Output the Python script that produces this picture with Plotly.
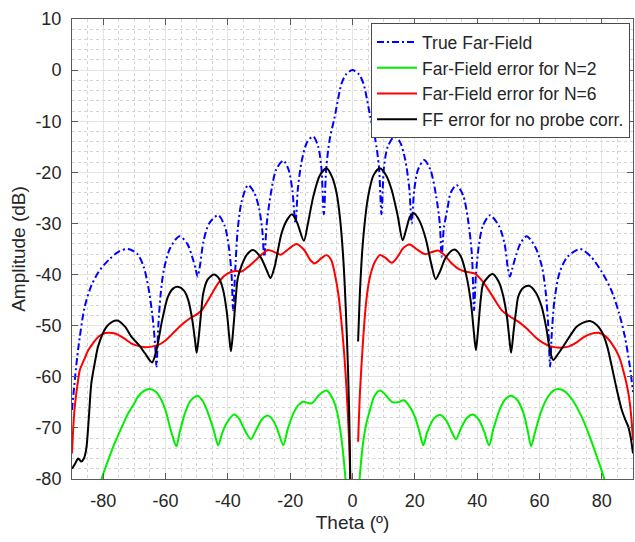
import plotly.graph_objects as go

# ---------------- data ----------------
theta_true = [-90, -89, -88, -86, -84, -81.5, -78, -75, -72, -69, -67, -65.5, -64.2, -63.3, -62.9, -62.3, -61.5, -60.5,
              -58.5, -55.5, -53, -51.3, -50.3, -49.7, -49, -47.8, -46, -43.1, -41, -39.7, -38.8, -38.3, -37.7, -36.8,
              -35.5, -33.5, -31.5, -30, -29, -28.3, -27.5, -26.3, -24.5, -22.2, -20.5, -19.3, -18.3, -17.5, -16.2,
              -14.5, -12.6, -11, -10, -9.2, -8.4, -7.3, -5.7, -3.5, -2, 0,
              2, 3.5, 5.7, 7.3, 8.5, 9.3, 10.1, 11.3, 13.4, 15.2, 16.9, 18.2, 19, 19.8, 21, 23, 25, 26.8, 28, 28.6,
              29.3, 30.5, 31.5, 33.4, 35.5, 37, 38.3, 39, 39.6, 40.5, 41.8, 44.1, 47, 48.8, 49.8, 50.5, 51.2, 52.2,
              53.8, 55.9, 58.8, 60.8, 62, 62.8, 63.4, 63.9, 64.8, 66.5, 69, 73, 76.5, 80, 83, 85.5, 87.4, 89, 90]
amp_true = [-66.5, -60, -54.5, -46.5, -42.5, -39.5, -37, -35.5, -35, -36, -38.5, -42.5, -48, -54, -58, -50, -43.5, -39,
            -34.8, -32.5, -34, -36.8, -39, -40.4, -38.5, -33.5, -30, -28.4, -30.5, -34.5, -40, -47, -40, -31,
            -25.5, -22.5, -24, -27, -31, -36.5, -30, -24.5, -19.5, -17.7, -19.5, -23.5, -30, -23, -17.5,
            -14, -13, -15, -19, -28.2, -19, -13.5, -9.1, -2.6, -0.8, 0,
            -0.8, -2.6, -9.1, -13.5, -19, -28.2, -19, -15, -13, -14, -17.5, -23, -30, -23.5, -19.5, -17.6, -19.5,
            -24.5, -30, -36.5, -31, -27, -24, -22.5, -24.5, -29, -36, -47, -40, -34.5, -30.5, -28.4, -30.5, -34,
            -38.5, -40.4, -39, -36.8, -34, -32.5, -34.8, -38.5, -43.5, -50, -58, -52, -45, -39.5, -36.5, -35, -36.5,
            -39.5, -43, -47.5, -52.2, -58, -63]

theta_n2 = [-81.5, -80.5, -78.5, -76.3, -74, -72, -70.3, -68.8, -67, -65, -63, -61.3, -60, -58.6, -57.3, -56.5, -55.5,
            -53.8, -52, -49.7, -48, -46.3, -44.5, -43.1, -41.8, -40.4, -38, -36.3, -35.1, -33.8, -32.6, -31, -29,
            -27.1, -25.2, -23.6, -22.2, -20.8, -19, -17.3, -15.8, -13.1, -10.8, -8.3, -6.6, -5.1, -3.9, -2.4, -1.8,
            None,
            1.8, 2.4, 3.6, 4.5, 5.6, 7, 8.8, 10.7, 12.6, 14.5, 16.5, 18.3, 20, 21.5, 22.7, 24, 26, 28.1, 30, 31.7,
            33.2, 35, 36.8, 38.7, 40.5, 42.3, 43.8, 45.3, 47.5, 49.2, 50.8, 52.8, 54.8, 56.2, 57.3, 58.5, 60.5,
            62.8, 64.5, 66, 68, 70.5, 73.5, 76, 78.5, 80.8, 82]
amp_n2 = [-83, -80, -76.5, -73, -69.8, -67.2, -65.5, -63.9, -62.8, -62.4, -63, -64.6, -66.5, -69.8, -72.5, -73.6, -71,
          -67.2, -64.7, -63.7, -64.8, -67.2, -70.5, -73.4, -71, -69.1, -67.4, -68.3, -69.8, -71.3, -72.2, -70.5, -68.3,
          -67.6, -68.8, -71.2, -73.4, -70.3, -67.2, -65.5, -64.9, -65.2, -63.6, -62.7, -64, -66.5, -70.5, -78.9, -85,
          None,
          -85, -79, -72, -69, -66.5, -63.8, -62.7, -63.6, -64.9, -65, -64.6, -65.8, -67.8, -70.8, -73.4, -70.8,
          -68.3, -67.5, -68.5, -70.6, -72.2, -69.8, -68, -67.4, -68.4, -70.8, -73.4, -70, -66, -64.3, -63.7, -64.5,
          -67, -70.5, -73.6, -71, -66.8, -63.8, -62.7, -62.4, -62.8, -64.5, -67.8, -71.5, -75.8, -80, -83]

theta_n6 = [-90, -89.4, -89, -88, -87.5, -86, -84.8, -83, -81.6, -80, -78.4, -76.5, -75.2, -73, -70.9, -68.5, -66.6,
            -64.5, -62.4, -60.2, -58.1, -56, -54.4, -52, -49.5, -47.8, -46.3, -44.6, -43.1, -41.2, -39.4, -37.5,
            -35.6, -33.5, -31.3, -29, -27.1, -25, -23, -20.5, -17.9, -15.5, -13.5, -12.1, -10, -8.3, -6.8, -5.7,
            -4.5, -3.5, -2.6, -1.9, -1.2, -0.7, -0.4,
            None,
            1.8, 2.4, 3.4, 4.2, 5, 6, 7.2, 8.8, 10.5, 12.6, 14.5, 16.3, 18.4, 20.5, 23.2, 25.5, 27.5, 29.5, 31.8, 34,
            36.1, 39.3, 41, 43, 45.5, 47.9, 50.5, 53.2, 56, 58.6, 61, 63.9, 66.5, 69.2, 71.8, 74.1, 76.5, 78.9, 81,
            83.2, 85.5, 87.4, 88.3, 89, 89.6, 90]
amp_n6 = [-75, -68, -65.2, -60.5, -58.7, -56.5, -54.8, -53.2, -52.2, -51.6, -51.4, -51.5, -51.8, -52.6, -53.5, -54,
          -54.2, -54.1, -53.8, -53, -51.8, -50.5, -49.6, -48.5, -47.6, -46.5, -45, -43.2, -41.7, -40.3, -39.6, -39.3,
          -39.4, -38.5, -37.3, -36, -35.2, -35.6, -36.1, -35, -34, -35.2, -37.2, -37.8, -36.8, -36.2, -37.2, -39.8,
          -44, -49.6, -56, -62.6, -71, -80, -90,
          None,
          -72.7, -63, -52.8, -46.5, -42.4, -39.5, -37.5, -36.2, -36.7, -37.7, -36.5, -34.8, -34.1, -35, -36, -35.6,
          -35.3, -36.2, -37.8, -38.9, -39.4, -39.8, -40.8, -42.4, -44.8, -47, -48.2, -49.2, -50.6, -52.2, -53.3,
          -54.1, -54.3, -54.1, -53.3, -52.3, -51.6, -51.4, -52, -53.5, -56, -60, -62.5, -65.2, -69, -72.4]

theta_noprobe = [-90, -89, -88, -87, -86.2, -85.4, -84.6, -83.8, -82.6, -81.6, -79, -77, -75.4, -73, -70.9, -68.5,
                 -66.6, -64.3, -63, -62, -61.3, -59.2, -57.5, -56, -54, -52.7, -51.5, -50.5, -50, -49.3, -48.5,
                 -47.9, -46.5, -44.5, -42.8, -41.5, -40.3, -39.5, -39, -38.3, -37.5, -36.7, -34, -31.9, -29.5, -27.5,
                 -26.3, -25, -22.8, -21, -19.4, -17.8, -15.6, -14.3, -12.6, -10.5, -8.3, -6.5, -5.1, -4, -3, -2.2,
                 -1.4, -0.9, -0.5,
                 None,
                 1.8, 2.5, 3.4, 5, 6.8, 8.8, 10.8, 12.6, 14.5, 16.1, 17.3, 18.5, 19.7, 21.5, 23.5, 25.3, 26.7, 28,
                 30, 32.7, 34.8, 36.6, 38, 38.9, 39.6, 40.4, 41.2, 42, 44.9, 47, 48.4, 49.6, 50.4, 50.9, 51.7, 52.5,
                 53.2, 54.8, 56.6, 58.8, 60.7, 62.2, 63.4, 64.4, 66, 68.2, 70, 71.9, 74, 76.2, 78.3, 80, 81.7, 83.2,
                 84.8, 86.4, 87.6, 88.5, 89.3, 90]
amp_noprobe = [-78, -77, -76, -76.6, -76, -74, -68, -61.3, -57, -54, -50.3, -49.2, -49, -50.2, -52.2, -53.8, -55.4,
               -57.2, -55, -52, -49.6, -44.3, -42.7, -42.4, -43.2, -45, -48.5, -53, -55.3, -52, -47, -43.7, -41,
               -40, -40.8, -43, -47.5, -52.5, -55, -51, -45, -40.4, -36.2, -35.2, -36.6, -39.2, -40.7, -38.5, -32,
               -29.3, -28.2, -29.8, -33.4, -30, -24.8, -20.6, -19.2, -21, -24.1, -29, -36.5, -46, -59.3, -72, -90,
               None,
               -53.1, -42, -33.2, -24.8, -20.5, -19.2, -20.6, -23.5, -28.5, -33.3, -31, -28.6, -28, -29.5, -33, -38,
               -40.9, -39.5, -36.6, -35.1, -36.5, -40.4, -45.5, -51, -54.8, -50, -44.5, -41.7, -39.9, -41.5, -44.3,
               -48.5, -53, -55.3, -51, -47, -44.3, -42.6, -42.2, -43.5, -46.3, -50.5, -55, -56.7, -55.5, -53.5,
               -51.8, -50.2, -49.4, -49.1, -49.8, -51.2, -54, -58, -62.5, -66.5, -68.5, -69.8, -72, -75]

x_ticks = [-80, -60, -40, -20, 0, 20, 40, 60, 80]
x_ticklabels = ["-80", "-60", "-40", "-20", "0", "20", "40", "60", "80"]
y_ticks = [10, 0, -10, -20, -30, -40, -50, -60, -70, -80]
y_ticklabels = ["10", "0", "-10", "-20", "-30", "-40", "-50", "-60", "-70", "-80"]

series_names = ["True Far-Field", "Far-Field error for N=2", "Far-Field error for N=6", "FF error for no probe corr."]

# ---------------- figure ----------------
FONT = "Liberation Sans, Arial, Helvetica, sans-serif"
TXT = "#262626"

fig = go.Figure()
specs = [
    (theta_true, amp_true, series_names[0], "#0000ff", "7px,3px,2px,3px"),
    (theta_n2, amp_n2, series_names[1], "#00ee00", "solid"),
    (theta_n6, amp_n6, series_names[2], "#ff0000", "solid"),
    (theta_noprobe, amp_noprobe, series_names[3], "#000000", "solid"),
]
for i, (xs, ys, name, col, dash) in enumerate(specs):
    fig.add_trace(go.Scatter(
        x=xs, y=ys, name=name, mode="lines", legendgroup=f"g{i}",
        line=dict(color=col, width=2, dash=dash, shape="spline", smoothing=0.8),
        connectgaps=False,
    ))

axis_common = dict(
    showline=True, linecolor="#5a5a5a", linewidth=1, mirror="ticks",
    ticks="inside", ticklen=6, tickcolor="#5a5a5a",
    showgrid=True, gridcolor="#e4e4e4", gridwidth=1,
    zeroline=False,
    tickfont=dict(family=FONT, size=18, color=TXT),
)

fig.update_xaxes(
    range=[-90, 90], tickvals=x_ticks, ticktext=x_ticklabels,
    minor=dict(dtick=5, showgrid=True, gridcolor="#d4d4d4", griddash="dot", ticks=""),
    title=dict(text="Theta (º)", font=dict(family=FONT, size=19, color=TXT), standoff=6),
    ticklabelstandoff=5,
    **axis_common,
)
fig.update_yaxes(
    range=[-80, 10], tickvals=y_ticks, ticktext=y_ticklabels,
    minor=dict(dtick=2, showgrid=True, gridcolor="#d4d4d4", griddash="dot", ticks=""),
    title=dict(text="Amplitude (dB)", font=dict(family=FONT, size=19, color=TXT), standoff=4),
    ticklabelstandoff=6,
    **axis_common,
)

fig.update_layout(
    width=635, height=542,
    margin=dict(l=72, r=2, t=19, b=63),
    paper_bgcolor="white", plot_bgcolor="white",
    font=dict(family=FONT, color=TXT),
    showlegend=True,
    legend=dict(
        x=0.533, y=0.991, xanchor="left", yanchor="top",
        bgcolor="white", bordercolor="#4a4a4a", borderwidth=1,
        font=dict(family=FONT, size=17.5, color=TXT),
        traceorder="grouped", tracegroupgap=0, itemwidth=40,
    ),
)

# remove the default 8px page margin so the 635x542 figure fills the window exactly
fig.write_html(
    "out.html",
    config={"displayModeBar": False},
    post_script="document.body.style.margin='0';document.body.style.overflow='hidden';",
)
